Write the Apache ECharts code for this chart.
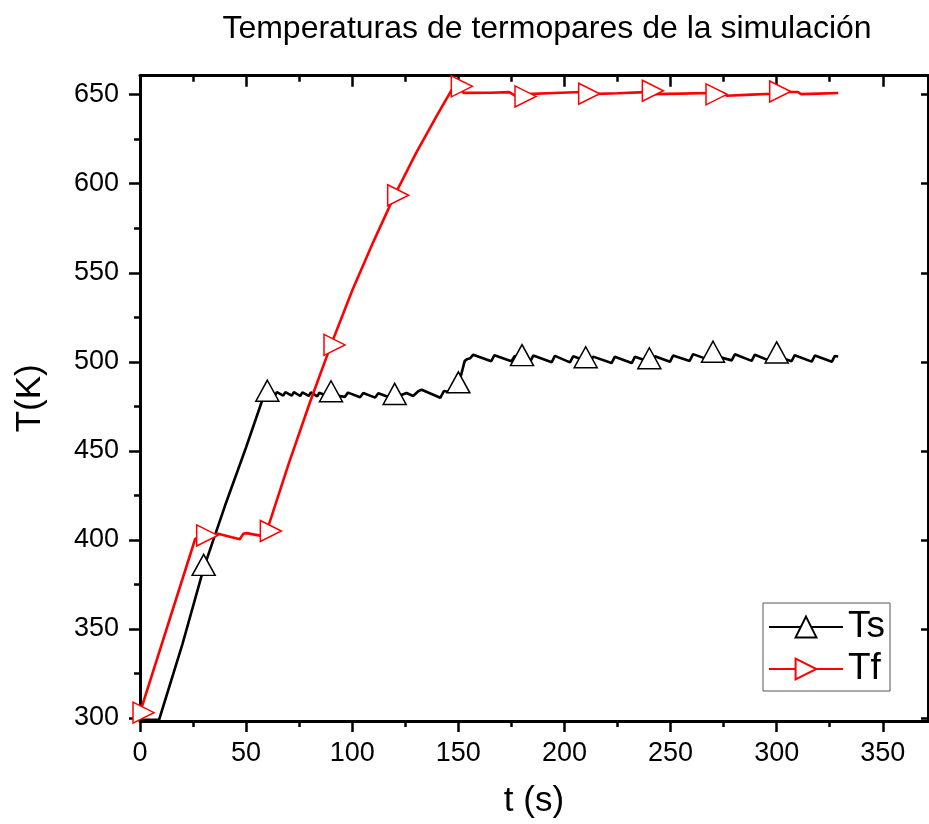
<!DOCTYPE html>
<html><head><meta charset="utf-8">
<script src="https://cdn.jsdelivr.net/npm/echarts@6/dist/echarts.min.js"></script>
<style>html,body{margin:0;padding:0;background:#fff}#c{width:929px;height:824px}</style>
</head><body><div id="c"></div>
<script>
// ---- data ----
const titleText = 'Temperaturas de termopares de la simulación';
const seriesNames = ['Ts', 'Tf'];
const tsTime = [0, 9, 20, 30, 40, 50, 58.5, 60, 61.5, 63.5, 64.5, 67.5, 68.5, 71.5, 72.5, 75.5, 76.5, 79.5, 80.5, 83.5, 84.5, 88.5, 90, 96.5, 98, 103.7, 105.2, 110.8, 112.3, 118, 120, 125.6, 128.7, 131.1, 132.7, 141.5, 143.2, 146, 150, 153, 154.2, 155.6, 157, 165.5, 167, 175, 176.6, 180, 183.8, 185.3, 194, 195.5, 202.6, 204.1, 210, 212, 213.5, 222.2, 223.7, 231.7, 233.2, 240, 241, 242.6, 249.7, 251.2, 259, 260.6, 268.8, 270, 270.3, 278.8, 280.3, 288.2, 289.7, 296.8, 298.3, 300, 307, 308.5, 316.5, 318, 326, 327.4, 329];
const tsTemp = [299, 299, 341.5, 384, 419, 452, 481.5, 481.8, 483, 481, 483, 481, 483, 481, 483, 480.8, 482.8, 480.8, 482.8, 480.6, 482.6, 480.6, 481.5, 480.3, 482.7, 480.1, 482.5, 479.9, 482.3, 479.8, 480, 482.5, 480.8, 483.5, 484.3, 479.8, 483.6, 483, 486.5, 500.5, 501.5, 502, 504, 500.3, 503.7, 500.3, 503.3, 501.8, 500, 503.5, 499.8, 503.3, 499.7, 503.1, 500.6, 499.5, 502.9, 499.3, 502.8, 499.3, 502.8, 500, 499.5, 503.1, 500, 503.5, 500.5, 504.3, 500.8, 503.7, 504.3, 500.8, 504.2, 500.5, 504, 500.5, 504, 503.3, 500.3, 503.7, 500.1, 503.5, 500, 503.3, 503];
const tfTime = [0, 26, 30, 33.5, 36.8, 47, 48.7, 50.3, 56.5, 60, 61, 70, 80, 90, 100, 110, 120, 130, 140, 147, 150, 152.5, 165, 174, 176.5, 180, 182, 195, 208, 210, 212, 225, 238, 240, 242, 255, 268, 270, 275, 276.5, 288, 298, 300, 302, 310, 311.5, 320, 329];
const tfTemp = [303, 400.5, 402.5, 402, 403.4, 400.4, 403.4, 403.8, 402.4, 405, 409.5, 442.5, 477, 509.5, 540, 567.5, 593.5, 617, 638.5, 653, 654.7, 651, 651.1, 651.4, 649.6, 649, 650.3, 650.9, 651.5, 650.5, 650.3, 650.8, 651.4, 652.2, 650.3, 650.6, 650.9, 650.2, 650.9, 649.4, 650, 650.5, 651.8, 651.5, 651.5, 650.3, 650.6, 650.9];
const tsMarkerTimes = [30, 60, 90, 120, 150, 180, 210, 240, 270, 300];
const tfMarkerTimes = [0, 30, 60, 90, 120, 150, 180, 210, 240, 270, 300];
const xMajorTicks = [0, 50, 100, 150, 200, 250, 300, 350];
const xMinorTicks = [25, 75, 125, 175, 225, 275, 325];
const yMajorTicks = [300, 350, 400, 450, 500, 550, 600, 650];
const yMinorTicks = [325, 375, 425, 475, 525, 575, 625];
const xRange = [0, 371.3];
const yRange = [298.3, 660.65];

// ---- chart ----
const FONT = 'Liberation Sans';
const chart = echarts.init(document.getElementById('c'), null, {renderer: 'canvas'});
const tsData = tsTime.map((t, i) => [t, tsTemp[i]]);
const tfData = tfTime.map((t, i) => [t, tfTemp[i]]);
const tsMarks = new Set(tsMarkerTimes);
const tfMarks = new Set(tfMarkerTimes);

function xAx(pos, ticks, len, inside, showLine, showLabel, extra) {
  return Object.assign({
    type: 'value', gridIndex: 0, position: pos, min: xRange[0], max: xRange[1],
    axisLine: {show: showLine, onZero: false, lineStyle: {color: '#000', width: 3}},
    axisTick: {show: true, inside: inside, length: len, customValues: ticks, lineStyle: {color: '#000', width: 2.5}},
    axisLabel: {show: showLabel, customValues: ticks, color: '#000', fontSize: 27, fontFamily: FONT, margin: 19},
    splitLine: {show: false}
  }, extra || {});
}
function yAx(pos, ticks, len, inside, showLine, showLabel, extra) {
  return Object.assign({
    type: 'value', gridIndex: 0, position: pos, min: yRange[0], max: yRange[1],
    axisLine: {show: showLine, onZero: false, lineStyle: {color: '#000', width: 3}},
    axisTick: {show: true, inside: inside, length: len, customValues: ticks, lineStyle: {color: '#000', width: 2.5}},
    axisLabel: {show: showLabel, customValues: ticks, color: '#000', fontSize: 27, fontFamily: FONT, margin: 21},
    splitLine: {show: false}
  }, extra || {});
}

const option = {
  animation: false,
  backgroundColor: '#fff',
  title: {
    text: titleText, left: 542, top: 8, textAlign: 'center',
    textStyle: {fontSize: 32, fontWeight: 'normal', color: '#000', fontFamily: FONT}
  },
  grid: {left: 140, right: 1, top: 75.7, bottom: 101.7, containLabel: false},
  legend: {
    orient: 'vertical', left: 763, top: 603, itemWidth: 74, itemHeight: 26, itemGap: 5,
    padding: [5.5, 5, 3.5, 5], borderColor: '#555', borderWidth: 1, backgroundColor: '#fff',
    selectedMode: false, data: seriesNames,
    textStyle: {fontSize: 37, color: '#000', fontFamily: FONT}
  },
  xAxis: [
    xAx('bottom', xMajorTicks, 11, false, true, true, {
      name: 't (s)', nameLocation: 'middle', nameGap: 63,
      nameTextStyle: {fontSize: 35, color: '#000', fontFamily: FONT}
    }),
    xAx('bottom', xMinorTicks, 6, false, false, false),
    xAx('top', xMajorTicks, 11, true, true, false),
    xAx('top', xMinorTicks, 6, true, false, false)
  ],
  yAxis: [
    yAx('left', yMajorTicks, 11, false, true, true, {
      name: 'T(K)', nameLocation: 'middle', nameGap: 92,
      nameTextStyle: {fontSize: 35, color: '#000', fontFamily: FONT}
    }),
    yAx('left', yMinorTicks, 6, false, false, false),
    yAx('right', yMajorTicks, 7, true, true, false)
  ],
  series: [
    {
      name: seriesNames[0], type: 'line', xAxisIndex: 0, yAxisIndex: 0, data: tsData,
      symbol: 'triangle', showSymbol: true, showAllSymbol: true,
      symbolSize: (v) => tsMarks.has(v[0]) ? [23, 21] : 0,
      symbolOffset: [0, -3.5],
      lineStyle: {color: '#000', width: 2.6},
      itemStyle: {color: '#fff', borderColor: '#000', borderWidth: 1.5},
      z: 3
    },
    {
      name: seriesNames[1], type: 'line', xAxisIndex: 0, yAxisIndex: 0, data: tfData,
      symbol: 'path://M0,0 L20,10 L0,20 Z', showSymbol: true, showAllSymbol: true,
      symbolSize: (v) => tfMarks.has(v[0]) ? [21, 21] : 0,
      symbolOffset: [3.5, 0],
      lineStyle: {color: '#ff0000', width: 2.6},
      itemStyle: {color: '#fff', borderColor: '#ff0000', borderWidth: 1.5},
      z: 4
    }
  ]
};
chart.setOption(option);
</script>
</body></html>
